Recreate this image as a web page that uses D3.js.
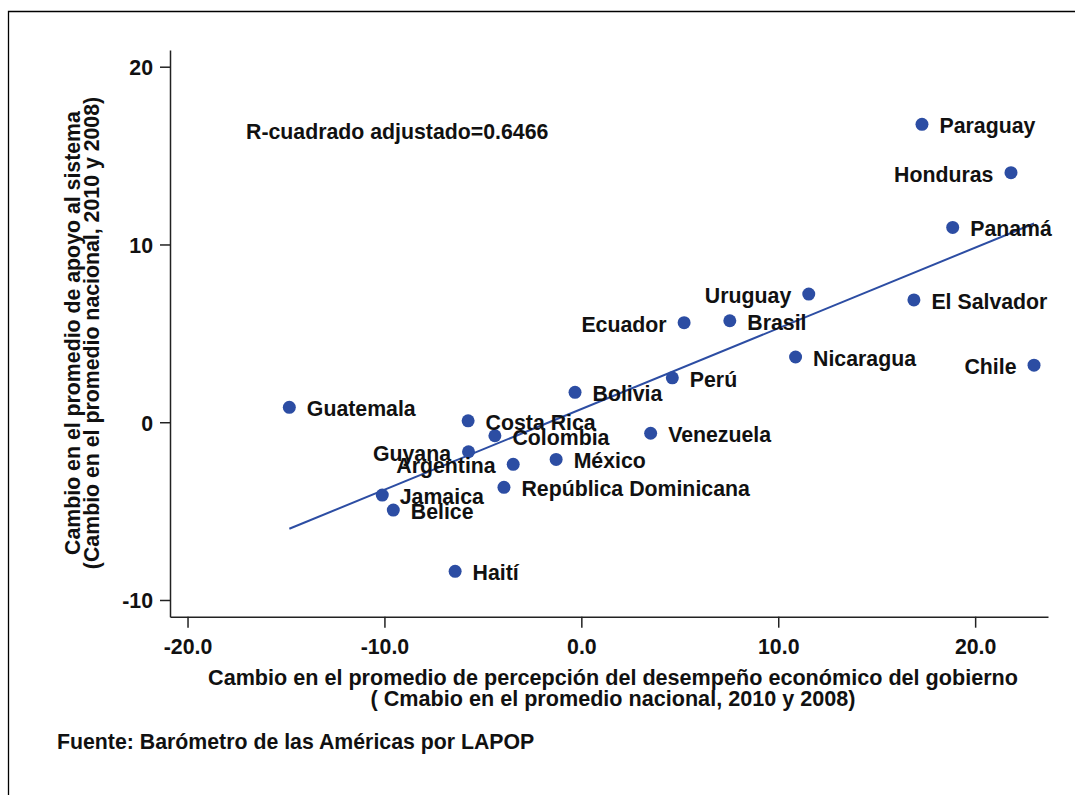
<!DOCTYPE html>
<html><head><meta charset="utf-8">
<script src="https://cdn.jsdelivr.net/npm/d3@7/dist/d3.min.js"></script>
<style>
body{margin:0;background:#fff}
text{font-family:"Liberation Sans",Arial,sans-serif;font-weight:bold;fill:#111}
</style></head><body>
<svg id="c" width="1075" height="795"></svg>
<script>
const countries = ["Paraguay","Honduras","Panamá","Uruguay","El Salvador","Ecuador","Brasil","Nicaragua","Chile","Perú","Bolivia","Guatemala","Costa Rica","Colombia","Venezuela","Guyana","México","Argentina","República Dominicana","Jamaica","Belice","Haití"];
const econChange = [17.30,21.82,18.86,11.55,16.89,5.22,7.54,10.88,22.99,4.62,-0.32,-14.83,-5.75,-4.39,3.52,-5.73,-1.28,-3.46,-3.93,-10.11,-9.55,-6.41];
const supportChange = [16.76,14.04,10.96,7.21,6.88,5.60,5.71,3.67,3.21,2.50,1.68,0.84,0.08,-0.76,-0.62,-1.66,-2.09,-2.37,-3.66,-4.10,-4.94,-8.39];
const labelSide = ["right","left","right","left","right","left","right","right","left","right","right","right","right","right","right","left","right","left","right","right","right","right"];
const xTicks = [-20,-10,0,10,20];
const xTickLabels = ["-20.0","-10.0","0.0","10.0","20.0"];
const yTicks = [-10,0,10,20];
const yTickLabels = ["-10","0","10","20"];
const xTitle = ["Cambio en el promedio de percepción del desempeño económico del gobierno","( Cmabio en el promedio nacional, 2010 y 2008)"];
const yTitle = ["Cambio en el promedio de apoyo al sistema","(Cambio en el promedio nacional, 2010 y 2008)"];
const note = "R-cuadrado adjustado=0.6466";
const source = "Fuente: Barómetro de las Américas por LAPOP";

const svg = d3.select("#c");
const FS = "21.3px";
const blue = "#2c4da3";

// outer frame (cut at right/bottom)
svg.append("path").attr("d","M8.5,800 V11.5 H1080").attr("fill","none").attr("stroke","#000").attr("stroke-width",1.3);

const x = d3.scaleLinear().domain([-20.89,23.7]).range([170,1048]);
const y = d3.scaleLinear().domain([-10.94,20.94]).range([616.7,50]);

const xa = svg.append("g").attr("transform","translate(0,616.7)")
  .call(d3.axisBottom(x).tickValues(xTicks).tickFormat((d,i)=>xTickLabels[i]).tickSize(11).tickSizeOuter(0).tickPadding(11));
const ya = svg.append("g").attr("transform","translate(170,0)")
  .call(d3.axisLeft(y).tickValues(yTicks).tickFormat((d,i)=>yTickLabels[i]).tickSize(10).tickSizeOuter(0).tickPadding(7));
[xa,ya].forEach(g=>{
  g.selectAll("path,line").attr("stroke","#222").attr("stroke-width",1.5);
  g.selectAll("text").style("font-size",FS).attr("fill","#111").style("font-family",'"Liberation Sans",Arial,sans-serif').style("font-weight","bold");
});
xa.selectAll("text").attr("dy","0.71em");
ya.selectAll("text").attr("dy","0.37em");

// fitted line (OLS)
const n = econChange.length;
const mx = d3.mean(econChange), my = d3.mean(supportChange);
let sxy=0, sxx=0;
for(let i=0;i<n;i++){sxy+=(econChange[i]-mx)*(supportChange[i]-my);sxx+=(econChange[i]-mx)**2;}
const b = sxy/sxx, a = my - b*mx;
const [xmin,xmax] = d3.extent(econChange);
svg.append("line").attr("x1",x(xmin)).attr("y1",y(a+b*xmin)).attr("x2",x(xmax)).attr("y2",y(a+b*xmax))
  .attr("stroke",blue).attr("stroke-width",2);

const pts = countries.map((c,i)=>({c, x:econChange[i], y:supportChange[i], s:labelSide[i]}));
svg.append("g").selectAll("circle").data(pts).join("circle")
  .attr("cx",d=>x(d.x)).attr("cy",d=>y(d.y)).attr("r",6.5).attr("fill",blue);
svg.append("g").selectAll("text").data(pts).join("text")
  .attr("x",d=>x(d.x)+(d.s==="right"?17.5:-17.5)).attr("y",d=>y(d.y)+9)
  .attr("text-anchor",d=>d.s==="right"?"start":"end").style("font-size",FS).text(d=>d.c);

svg.append("text").attr("x",246).attr("y",139).style("font-size",FS).text(note);

svg.selectAll(".xt").data(xTitle).join("text").attr("class","xt")
  .attr("x",613).attr("y",(d,i)=>685+i*20.5).attr("text-anchor","middle").style("font-size","21.6px").text(d=>d);
svg.selectAll(".yt").data(yTitle).join("text").attr("class","yt")
  .attr("transform",(d,i)=>`translate(${80+i*19},333) rotate(-90)`).attr("text-anchor","middle").style("font-size",FS).text(d=>d);

svg.append("text").attr("x",57).attr("y",749).style("font-size",FS).text(source);
</script></body></html>
